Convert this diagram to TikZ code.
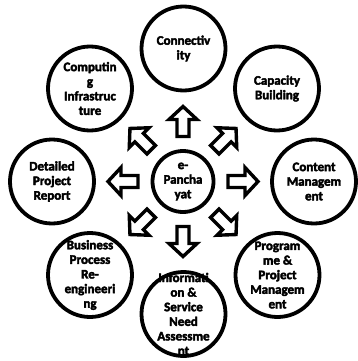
\documentclass[tikz,border=0pt]{standalone}
\usepackage{fontspec}
\setmainfont{Carlito}[BoldFont={Carlito Bold}, BoldFeatures={FakeBold=3}]
\begin{document}
\begin{tikzpicture}[x=1pt,y=-1pt,
  ring/.style={circle, draw=black, line width=3.8pt, minimum size=84pt, inner sep=0pt},
  hub/.style={ring, minimum size=61pt},
  lbl/.style={align=center, inner sep=0pt, text=black, font=\fontsize{13}{14.6}\selectfont\bfseries},
  blockarrow/.style={draw=black, line width=3.4pt, fill=white, line join=miter}]
\useasboundingbox (0,0) rectangle (358,361);
\clip (0,0) rectangle (358,361);
\fill[white] (0,0) rectangle (358,361);
\coordinate (c) at (183,181.5);
\node[hub] (hub) at (c) {};
\node[lbl] (hubt) at (hub) {e-\\Pancha\\yat};
\node[ring] (n1) at (183.5,48.5) {};
\node[lbl] (n1t) at (n1) {Connectiv\\ity};
\node[ring] (n2) at (277,88.5) {};
\node[lbl] (n2t) at (n2) {Capacity\\Building};
\node[ring] (n3) at (314,181.5) {};
\node[lbl] (n3t) at (n3) {Content\\Managem\\ent};
\node[ring] (n4) at (277.5,275) {};
\node[lbl] (n4t) at (n4) {Program\\me \&\\Project\\Managem\\ent};
\node[ring] (n5) at (183.5,314) {};
\node[lbl] (n5t) at (n5) {Informati\\on \&\\Service\\Need\\Assessme\\nt};
\node[ring] (n6) at (90,275) {};
\node[lbl] (n6t) at (n6) {Business\\Process\\Re-\\engineeri\\ng};
\node[ring] (n7) at (52,181.5) {};
\node[lbl] (n7t) at (n7) {Detailed\\Project\\Report};
\node[ring] (n8) at (90,88.5) {};
\node[lbl] (n8t) at (n8) {Computin\\g\\Infrastruc\\ture};
\foreach \a in {0,45,...,315}{
  \begin{scope}[shift={(c)}, rotate=\a]
    \draw[blockarrow] (45,-6) -- (62,-6) -- (62,-14) -- (75,0) -- (62,14) -- (62,6) -- (45,6) -- cycle;
  \end{scope}
}
\end{tikzpicture}
\end{document}
